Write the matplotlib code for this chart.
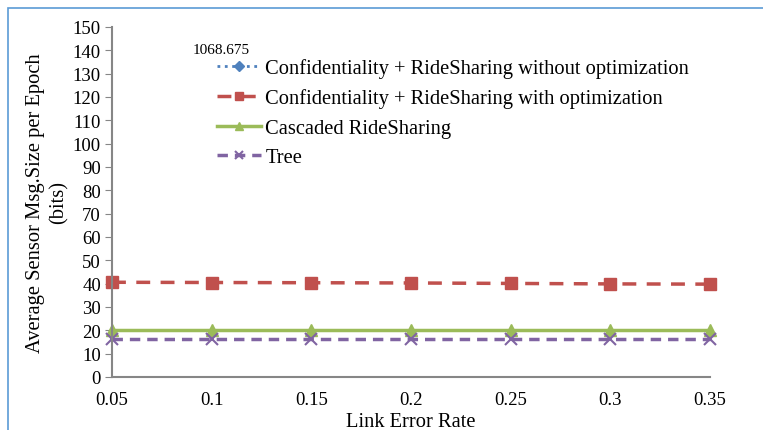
import matplotlib.pyplot as plt
from matplotlib.patches import Rectangle

# data
link_error = [0.05, 0.1, 0.15, 0.2, 0.25, 0.3, 0.35]
conf_no_opt = [1068.675, 1068.675, 1068.675, 1068.675, 1068.675, 1068.675, 1068.675]
conf_opt = [40.6, 40.5, 40.4, 40.3, 40.1, 39.9, 39.8]
cascaded = [20, 20, 20, 20, 20, 20, 20]
tree = [16.5, 16.5, 16.5, 16.5, 16.5, 16.5, 16.5]
yticks = list(range(0, 151, 10))

plt.rcParams['font.family'] = ['Liberation Serif', 'DejaVu Serif']

fig = plt.figure(figsize=(7.63, 4.31), dpi=100)
ax = fig.add_axes([112 / 763, 1 - 378 / 431, (710 - 112) / 763, (378 - 28) / 431])

ax.plot(link_error, conf_no_opt, color='#4F81BD', linestyle=':', linewidth=2,
        marker='D', markersize=6, label='Confidentiality + RideSharing without optimization')
ax.plot(link_error, conf_opt, color='#C0504D', linestyle=(0, (4, 3)), linewidth=2.5,
        marker='s', markersize=8, clip_on=False, label='Confidentiality + RideSharing with optimization')
ax.plot(link_error, cascaded, color='#9BBB59', linestyle='-', linewidth=2.5,
        marker='^', markersize=8, clip_on=False, label='Cascaded RideSharing')
ax.plot(link_error, tree, color='#8064A2', linestyle=(0, (3, 2)), linewidth=2.5,
        marker='x', markersize=8, markeredgewidth=1.5, clip_on=False, label='Tree')

ax.set_xlim(0.05, 0.35)
ax.set_ylim(0, 150)
ax.set_xticks(link_error)
ax.set_xticklabels([str(v) for v in link_error])
ax.set_yticks(yticks)

for side in ['top', 'right']:
    ax.spines[side].set_visible(False)
for side in ['left', 'bottom']:
    ax.spines[side].set_color('#868686')
    ax.spines[side].set_linewidth(1.5)
ax.tick_params(axis='y', length=5, color='#868686', labelsize=13.5, pad=3)
ax.tick_params(axis='x', length=0, labelsize=13.5, pad=10)

ax.set_xlabel('Link Error Rate', fontsize=14.8, labelpad=3)
ax.set_ylabel('Average Sensor Msg.Size per Epoch\n(bits)', fontsize=14.8, labelpad=3,
              linespacing=1.3)

leg = ax.legend(loc='upper left', bbox_to_anchor=(0.162, 0.935), frameon=False,
                fontsize=14.8, handlelength=2.15, handletextpad=0.2, labelspacing=0.5,
                borderaxespad=0, markerscale=0.8)

fig.text(193 / 763, 1 - 50 / 431, '1068.675', fontsize=11, va='center', ha='left')

# light blue frame around the chart area
fig.patches.append(Rectangle((8 / 763, -0.1), 1.2, 1.1 - 9 / 431, transform=fig.transFigure,
                             fill=False, edgecolor='#5B9BD5', linewidth=1.2))

fig.savefig('out.png', dpi=100)
